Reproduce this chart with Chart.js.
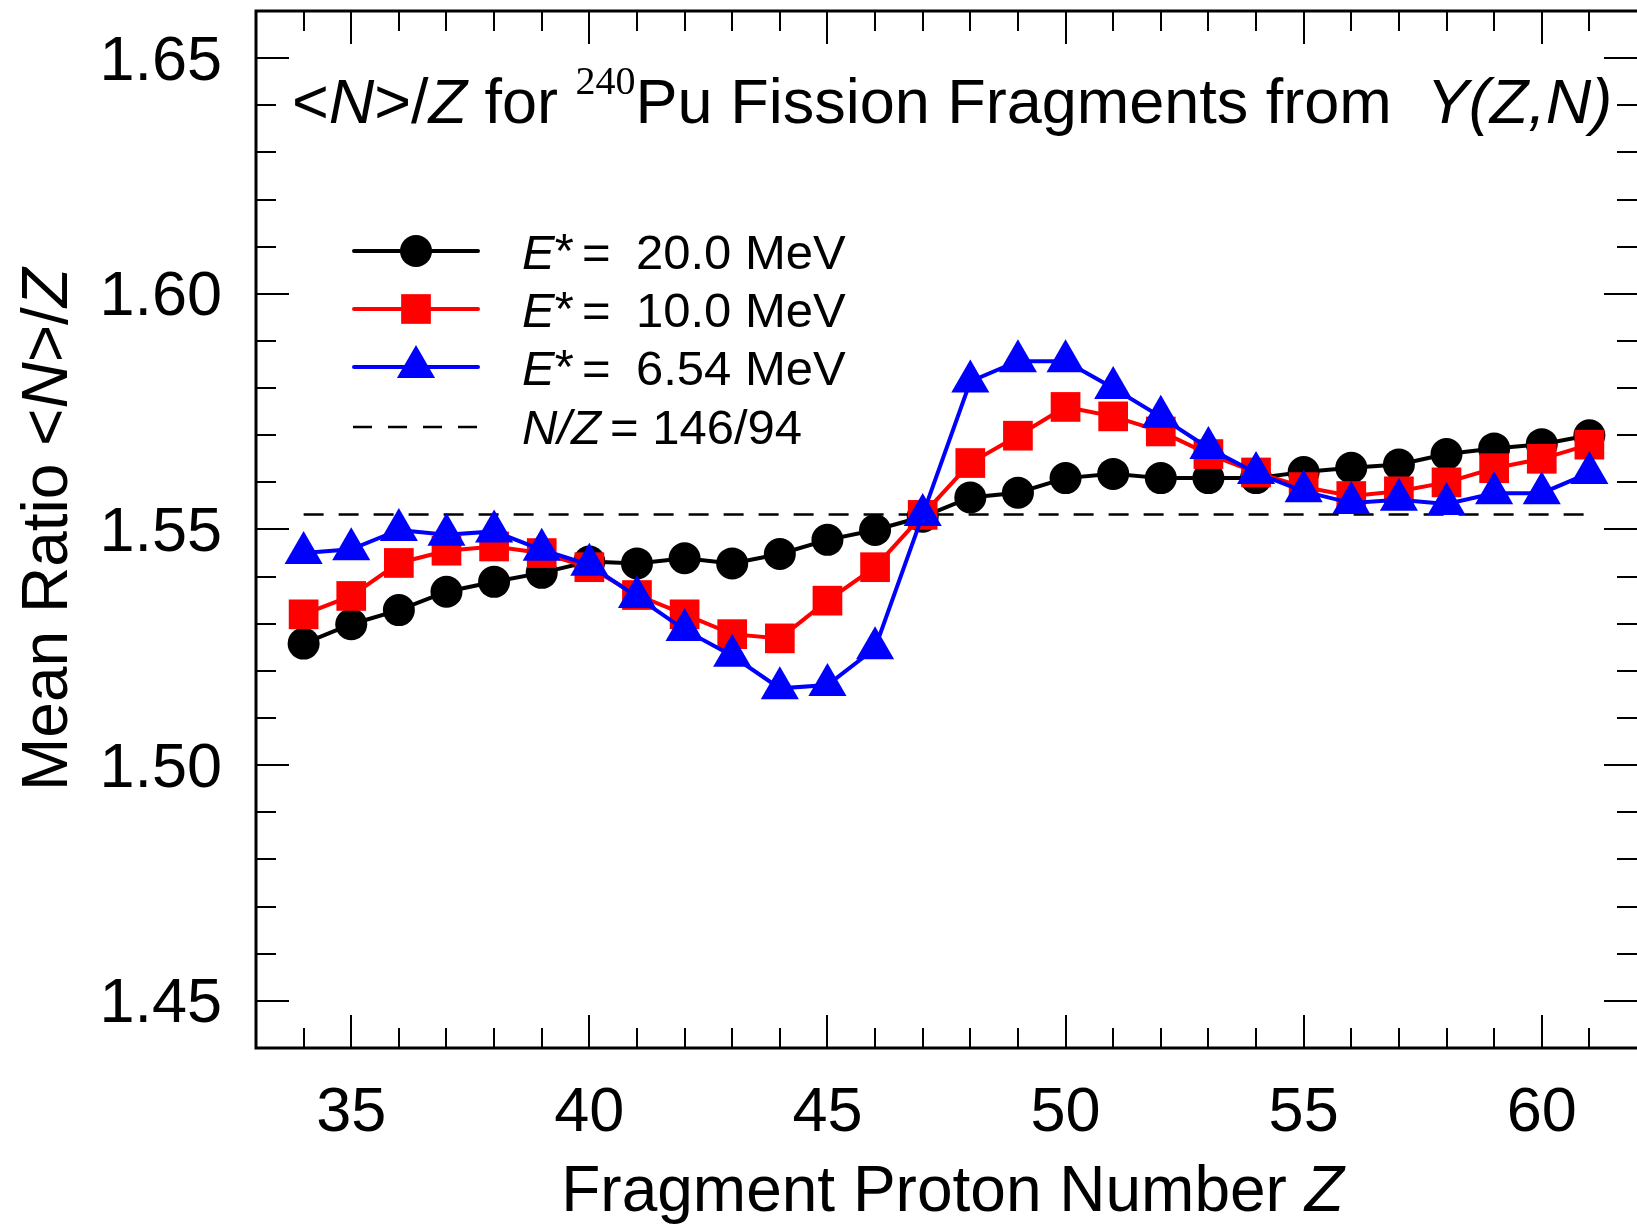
<!DOCTYPE html>
<html>
<head>
<meta charset="utf-8">
<script src="https://cdn.jsdelivr.net/npm/chart.js@4.4.1/dist/chart.umd.min.js"></script>
<style>
  html, body { margin: 0; padding: 0; background: #fff; }
  canvas { display: block; }
</style>
</head>
<body>
<canvas id="ratio-chart" width="1637" height="1227"></canvas>
<script>
// fragment proton number Z
const zValues = [34, 35, 36, 37, 38, 39, 40, 41, 42, 43, 44, 45, 46, 47,
                 48, 49, 50, 51, 52, 53, 54, 55, 56, 57, 58, 59, 60, 61];

// mean <N>/Z for each excitation energy
const e20 = [1.5258, 1.5299, 1.5329, 1.5368, 1.5389, 1.5408, 1.5432, 1.5428, 1.5439, 1.5428,
             1.5448, 1.5478, 1.5499, 1.5527, 1.5568, 1.5578, 1.5609, 1.5618, 1.5609, 1.5609,
             1.5609, 1.5622, 1.5631, 1.5638, 1.5660, 1.5672, 1.5681, 1.5700];
const e10 = [1.5320, 1.5359, 1.5429, 1.5455, 1.5464, 1.5450, 1.5420, 1.5361, 1.5320, 1.5278,
             1.5269, 1.5349, 1.5420, 1.5531, 1.5641, 1.5699, 1.5760, 1.5740, 1.5708, 1.5660,
             1.5621, 1.5590, 1.5571, 1.5581, 1.5600, 1.5630, 1.5650, 1.5680];
const e654 = [1.5450, 1.5458, 1.5499, 1.5489, 1.5496, 1.5457, 1.5425, 1.5357, 1.5287, 1.5232,
              1.5163, 1.5170, 1.5248, 1.5531, 1.5814, 1.5857, 1.5857, 1.5800, 1.5739, 1.5673,
              1.5620, 1.5581, 1.5556, 1.5563, 1.5554, 1.5577, 1.5577, 1.5620];

// N/Z of the compound nucleus 240Pu, drawn from Z=34 to Z=61
const nzRatio = 146 / 94;
const nzSpan = [34, 61];

const xTicks = [35, 40, 45, 50, 55, 60];
const yTicks = [1.45, 1.50, 1.55, 1.60, 1.65];
const yTickLabels = ['1.45', '1.50', '1.55', '1.60', '1.65'];

const FONT = 'Liberation Sans';
const SERIF = 'Liberation Serif';

function toPoints(values) {
    return zValues.map((z, i) => ({ x: z, y: values[i] }));
}

// draw a run of differently styled text pieces, left to right
function drawParts(ctx, x, y, parts) {
    parts.forEach(p => {
        ctx.font = p.font;
        ctx.fillText(p.text, x, y + (p.dy || 0));
        x += ctx.measureText(p.text).width;
    });
    return x;
}

function partsWidth(ctx, parts) {
    let w = 0;
    parts.forEach(p => { ctx.font = p.font; w += ctx.measureText(p.text).width; });
    return w;
}

function marker(ctx, style, x, y, r) {
    ctx.beginPath();
    if (style === 'circle') {
        ctx.arc(x, y, r, 0, Math.PI * 2);
    } else if (style === 'rect') {
        const s = r * Math.SQRT1_2;
        ctx.rect(x - s, y - s, 2 * s, 2 * s);
    } else {
        ctx.moveTo(x, y - r);
        ctx.lineTo(x + r * 0.866, y + r / 2);
        ctx.lineTo(x - r * 0.866, y + r / 2);
        ctx.closePath();
    }
    ctx.fill();
}

const decorations = {
    id: 'decorations',
    afterDatasetsDraw(chart) {
        const { ctx, chartArea: area, scales: { x, y } } = chart;
        ctx.save();
        ctx.strokeStyle = '#000';
        ctx.fillStyle = '#000';

        // inward tick marks on all four sides
        ctx.lineWidth = 2;
        ctx.beginPath();
        for (let z = 34; z <= 61; z++) {
            const px = Math.round(x.getPixelForValue(z));
            const len = z % 5 === 0 ? 33 : 20;
            ctx.moveTo(px, area.bottom); ctx.lineTo(px, area.bottom - len);
            ctx.moveTo(px, area.top); ctx.lineTo(px, area.top + len);
        }
        for (let i = 145; i <= 165; i++) {
            const py = Math.round(y.getPixelForValue(i / 100));
            const len = i % 5 === 0 ? 33 : 20;
            ctx.moveTo(area.left, py); ctx.lineTo(area.left + len, py);
            ctx.moveTo(area.right, py); ctx.lineTo(area.right - len, py);
        }
        ctx.stroke();

        // frame: right side falls on the page edge
        ctx.lineWidth = 3;
        ctx.beginPath();
        ctx.moveTo(area.right, area.top);
        ctx.lineTo(area.left, area.top);
        ctx.lineTo(area.left, area.bottom);
        ctx.lineTo(area.right, area.bottom);
        ctx.stroke();

        // title inside the frame
        ctx.textAlign = 'left';
        ctx.textBaseline = 'alphabetic';
        const reg = `63px "${FONT}"`;
        const ita = `italic 63px "${FONT}"`;
        drawParts(ctx, 292, 123, [
            { text: '<', font: reg },
            { text: 'N', font: ita },
            { text: '>/', font: reg },
            { text: 'Z', font: ita },
            { text: ' for ', font: reg },
            { text: '240', font: `40px "${SERIF}"`, dy: -29 },
            { text: 'Pu Fission Fragments from  ', font: reg },
            { text: 'Y(Z,N)', font: ita }
        ]);

        // legend
        const lreg = `49px "${FONT}"`;
        const lita = `italic 49px "${FONT}"`;
        const rows = [
            { color: '#000000', style: 'circle', r: 16, value: '20.0 MeV' },
            { color: '#ff0000', style: 'rect', r: 21, value: '10.0 MeV' },
            { color: '#0000ff', style: 'triangle', r: 22, value: '6.54 MeV' }
        ];
        rows.forEach((row, i) => {
            const ly = 251 + i * 58;
            ctx.strokeStyle = row.color;
            ctx.fillStyle = row.color;
            ctx.lineWidth = 4;
            ctx.lineCap = 'round';
            ctx.beginPath();
            ctx.moveTo(354, ly); ctx.lineTo(478, ly);
            ctx.stroke();
            marker(ctx, row.style, 416, ly, row.r);
            ctx.fillStyle = '#000';
            drawParts(ctx, 522, ly + 18, [{ text: 'E', font: lita }, { text: '*', font: lreg, dy: -2 }]);
            drawParts(ctx, 582, ly + 18, [{ text: '=', font: lreg }]);
            drawParts(ctx, 636, ly + 18, [{ text: row.value, font: lreg }]);
        });
        const dy = 427;
        ctx.strokeStyle = '#000';
        ctx.lineWidth = 2.5;
        ctx.lineCap = 'butt';
        ctx.setLineDash([19, 16]);
        ctx.beginPath();
        ctx.moveTo(353, dy); ctx.lineTo(478, dy);
        ctx.stroke();
        ctx.setLineDash([]);
        drawParts(ctx, 522, dy + 17, [{ text: 'N/Z', font: lita }]);
        drawParts(ctx, 610, dy + 17, [{ text: '= 146/94', font: lreg }]);

        // axis titles
        const treg = `64px "${FONT}"`;
        const tita = `italic 64px "${FONT}"`;
        const xTitle = [{ text: 'Fragment Proton Number ', font: treg }, { text: 'Z', font: tita }];
        const xw = partsWidth(ctx, xTitle);
        drawParts(ctx, (area.left + area.right) / 2 + 6 - xw / 2, 1211, xTitle);

        const yTitle = [
            { text: 'Mean Ratio <', font: treg },
            { text: 'N', font: tita },
            { text: '>/', font: treg },
            { text: 'Z', font: tita }
        ];
        const yw = partsWidth(ctx, yTitle);
        ctx.translate(67, (area.top + area.bottom) / 2);
        ctx.rotate(-Math.PI / 2);
        drawParts(ctx, -yw / 2, 0, yTitle);
        ctx.restore();
    }
};

const chart = new Chart(document.getElementById('ratio-chart'), {
    type: 'scatter',
    data: {
        datasets: [
            {
                label: 'E* = 20.0 MeV',
                data: toPoints(e20),
                showLine: true,
                borderColor: '#000000',
                backgroundColor: '#000000',
                borderWidth: 4,
                pointStyle: 'circle',
                pointRadius: 16,
                pointBorderWidth: 0,
                order: 3
            },
            {
                label: 'E* = 10.0 MeV',
                data: toPoints(e10),
                showLine: true,
                borderColor: '#ff0000',
                backgroundColor: '#ff0000',
                borderWidth: 4,
                pointStyle: 'rect',
                pointRadius: 21,
                pointBorderWidth: 0,
                order: 2
            },
            {
                label: 'E* = 6.54 MeV',
                data: toPoints(e654),
                showLine: true,
                borderColor: '#0000ff',
                backgroundColor: '#0000ff',
                borderWidth: 4,
                pointStyle: 'triangle',
                pointRadius: 22,
                pointBorderWidth: 0,
                order: 1
            },
            {
                label: 'N/Z = 146/94',
                data: nzSpan.map(z => ({ x: z, y: nzRatio })),
                showLine: true,
                borderColor: '#000000',
                borderWidth: 2.5,
                borderDash: [20, 15],
                pointRadius: 0,
                order: 4
            }
        ]
    },
    options: {
        responsive: false,
        animation: false,
        events: [],
        layout: { autoPadding: false, padding: { top: 11, right: 0, left: 0, bottom: 0 } },
        plugins: {
            legend: { display: false },
            tooltip: { enabled: false }
        },
        scales: {
            x: {
                type: 'linear',
                min: 33,
                max: 62,
                grid: { display: false, drawTicks: false },
                border: { display: false },
                afterBuildTicks: axis => { axis.ticks = xTicks.map(v => ({ value: v })); },
                afterFit: axis => {
                    axis.height = 179;
                    axis.paddingLeft = 0; axis.paddingRight = 0;
                    axis.paddingTop = 0; axis.paddingBottom = 0;
                },
                ticks: {
                    autoSkip: false,
                    maxRotation: 0,
                    padding: 28,
                    color: '#000',
                    font: { family: FONT, size: 63 },
                    callback: (value, index) => String(xTicks[index])
                }
            },
            y: {
                min: 1.44,
                max: 1.66,
                grid: { display: false, drawTicks: false },
                border: { display: false },
                afterBuildTicks: axis => { axis.ticks = yTicks.map(v => ({ value: v })); },
                afterFit: axis => {
                    axis.width = 256;
                    axis.paddingLeft = 0; axis.paddingRight = 0;
                    axis.paddingTop = 0; axis.paddingBottom = 0;
                },
                ticks: {
                    padding: 34,
                    labelOffset: 4,
                    color: '#000',
                    font: { family: FONT, size: 63 },
                    callback: (value, index) => yTickLabels[index]
                }
            }
        }
    },
    plugins: [decorations]
});
</script>
</body>
</html>
